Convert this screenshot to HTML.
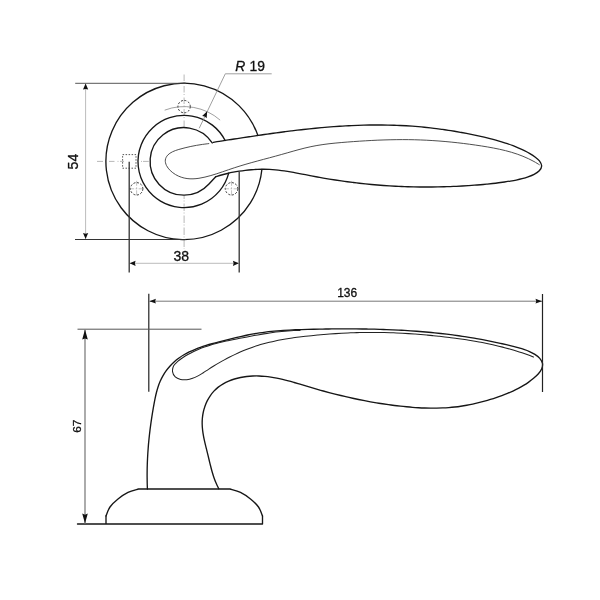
<!DOCTYPE html><html><head><meta charset="utf-8"><title>Handle drawing</title>
<style>html,body{margin:0;padding:0;background:#fff}svg{display:block;will-change:transform}text{font-family:"Liberation Sans",Arial,sans-serif;fill:#111;stroke:#111;stroke-width:0.3px}</style></head><body>
<svg width="600" height="600" viewBox="0 0 600 600">
<rect width="600" height="600" fill="#fff"/>
<g fill="none" stroke="#999" stroke-width="0.7">
<path d="M184.10,74.5 V127" stroke-dasharray="6.5 1.5 1 2.5"/>
<path d="M184.10,195.5 V249" stroke-dasharray="7.5 1.5 1 2" stroke-dashoffset="4"/>
<path d="M97,161.40 H103 M109,161.40 H114.5 M117.5,161.40 h1 M120,161.40 H124 M141,161.40 h1 M143,161.40 H148.8"/>
</g>
<path d="M164.65,110.17 A54.80,54.80 0 0 1 220.14,120.12" fill="none" stroke="#777" stroke-width="0.7"/>
<circle cx="184.10" cy="106.60" r="6.2" fill="none" stroke="#333" stroke-width="1" stroke-dasharray="2 1.6"/>
<circle cx="231.56" cy="188.80" r="6.2" fill="none" stroke="#333" stroke-width="1" stroke-dasharray="2 1.6"/>
<path d="M224.06,188.80 h15 M231.56,180.80 v16" fill="none" stroke="#999" stroke-width="0.6" stroke-dasharray="5 1.5 1.5 1.5"/>
<circle cx="136.64" cy="188.80" r="6.2" fill="none" stroke="#333" stroke-width="1" stroke-dasharray="2 1.6"/>
<path d="M129.14,188.80 h15 M136.64,180.80 v16" fill="none" stroke="#999" stroke-width="0.6" stroke-dasharray="5 1.5 1.5 1.5"/>
<rect x="122.6" y="154.6" width="13.4" height="13.6" fill="none" stroke="#444" stroke-width="0.9" stroke-dasharray="1.5 1.5"/>
<g fill="none" stroke="#161616" stroke-width="1.35" stroke-linecap="round" stroke-linejoin="round">
<path d="M261.88,169.48 A78.20,78.20 0 1 1 257.88,135.47"/>
<path d="M228.70,173.15 A46.10,46.10 0 1 1 225.13,140.49"/>
<path d="M212.24,142.99 A33.80,33.80 0 1 0 208.99,184.04 L215.7,176.7"/>
<path d="M213.30,142.30 C214.30,142.14 217.29,141.67 219.28,141.36 C221.27,141.05 223.27,140.74 225.26,140.42 C227.26,140.11 229.25,139.80 231.25,139.49 C233.25,139.18 235.24,138.87 237.24,138.56 C239.24,138.25 241.24,137.95 243.24,137.64 C245.23,137.34 247.23,137.04 249.23,136.74 C251.23,136.43 253.23,136.14 255.24,135.84 C257.24,135.55 259.24,135.25 261.24,134.96 C263.24,134.68 265.25,134.39 267.25,134.11 C269.25,133.82 271.26,133.55 273.26,133.27 C275.27,133.00 277.27,132.73 279.28,132.46 C281.28,132.19 283.29,131.93 285.30,131.68 C287.30,131.42 289.31,131.17 291.32,130.92 C293.33,130.68 295.34,130.43 297.34,130.20 C299.35,129.96 301.36,129.74 303.37,129.51 C305.38,129.29 307.39,129.07 309.40,128.86 C311.41,128.65 313.42,128.45 315.43,128.26 C317.45,128.06 319.46,127.87 321.47,127.69 C323.48,127.51 325.49,127.34 327.51,127.17 C329.52,127.01 331.53,126.85 333.55,126.70 C335.56,126.55 337.57,126.41 339.59,126.28 C341.60,126.15 343.62,126.03 345.63,125.91 C347.65,125.80 349.66,125.70 351.68,125.60 C353.69,125.51 355.71,125.43 357.73,125.35 C359.74,125.28 361.76,125.22 363.78,125.16 C365.79,125.11 367.81,125.07 369.83,125.04 C371.84,125.01 373.86,124.99 375.88,124.98 C377.90,124.97 379.92,124.98 381.93,124.99 C383.95,125.01 385.97,125.04 387.99,125.08 C390.01,125.12 392.03,125.17 394.05,125.23 C396.07,125.30 398.08,125.38 400.10,125.47 C402.12,125.56 404.14,125.67 406.16,125.79 C408.18,125.91 410.20,126.04 412.22,126.19 C414.24,126.33 416.26,126.49 418.28,126.67 C420.30,126.84 422.32,127.03 424.34,127.24 C426.36,127.44 428.38,127.66 430.40,127.89 C432.41,128.12 434.43,128.36 436.44,128.62 C438.46,128.88 440.47,129.15 442.48,129.43 C444.49,129.71 446.49,130.01 448.50,130.32 C450.50,130.63 452.51,130.95 454.50,131.28 C456.50,131.62 458.50,131.96 460.49,132.32 C462.48,132.68 464.47,133.05 466.45,133.43 C468.43,133.81 470.41,134.21 472.39,134.61 C474.36,135.02 476.33,135.43 478.29,135.86 C480.26,136.29 482.22,136.73 484.17,137.18 C486.12,137.63 488.07,138.10 490.01,138.59 C491.96,139.08 493.89,139.58 495.82,140.11 C497.75,140.65 499.68,141.20 501.60,141.79 C503.52,142.38 505.43,142.99 507.34,143.65 C509.25,144.30 511.15,144.99 513.05,145.72 C514.95,146.45 516.84,147.22 518.73,148.04 C520.61,148.85 522.51,149.71 524.37,150.63 C526.23,151.55 528.12,152.50 529.89,153.55 C531.67,154.61 533.43,155.72 535.02,156.95 C536.61,158.19 538.33,159.48 539.43,160.97 C540.53,162.46 541.68,164.25 541.65,165.89 C541.62,167.52 540.51,169.37 539.26,170.78 C538.01,172.19 536.00,173.32 534.13,174.34 C532.26,175.35 530.06,176.15 528.05,176.88 C526.04,177.60 524.05,178.18 522.08,178.71 C520.11,179.24 518.17,179.65 516.22,180.05 C514.27,180.44 512.34,180.76 510.38,181.08 C508.43,181.40 506.47,181.69 504.51,181.98 C502.54,182.26 500.56,182.53 498.57,182.78 C496.58,183.04 494.59,183.28 492.59,183.50 C490.59,183.73 488.58,183.94 486.57,184.14 C484.55,184.34 482.54,184.53 480.52,184.71 C478.49,184.89 476.47,185.05 474.44,185.20 C472.42,185.36 470.39,185.50 468.36,185.63 C466.33,185.77 464.30,185.89 462.28,186.00 C460.25,186.11 458.22,186.22 456.19,186.31 C454.17,186.41 452.14,186.49 450.12,186.57 C448.09,186.64 446.07,186.71 444.04,186.76 C442.02,186.82 440.00,186.87 437.97,186.90 C435.95,186.94 433.93,186.96 431.91,186.98 C429.89,187.00 427.87,187.01 425.85,187.00 C423.83,187.00 421.81,186.99 419.79,186.96 C417.77,186.94 415.75,186.91 413.74,186.87 C411.72,186.82 409.70,186.77 407.68,186.71 C405.67,186.65 403.65,186.57 401.64,186.49 C399.62,186.41 397.61,186.32 395.59,186.21 C393.58,186.11 391.57,186.00 389.55,185.87 C387.54,185.75 385.53,185.62 383.52,185.47 C381.50,185.33 379.49,185.17 377.48,185.01 C375.47,184.84 373.46,184.67 371.45,184.48 C369.44,184.30 367.43,184.10 365.42,183.89 C363.41,183.69 361.40,183.47 359.39,183.24 C357.38,183.01 355.38,182.78 353.37,182.53 C351.36,182.28 349.35,182.02 347.35,181.75 C345.34,181.48 343.34,181.20 341.33,180.92 C339.33,180.63 337.33,180.33 335.33,180.02 C333.33,179.71 331.33,179.39 329.33,179.06 C327.33,178.74 325.33,178.40 323.33,178.05 C321.34,177.71 319.34,177.35 317.35,176.98 C315.36,176.62 313.37,176.24 311.38,175.86 C309.39,175.48 307.40,175.08 305.42,174.70 C303.43,174.31 301.45,173.92 299.46,173.54 C297.47,173.17 295.49,172.79 293.50,172.44 C291.51,172.08 289.52,171.74 287.53,171.43 C285.54,171.12 283.55,170.82 281.55,170.56 C279.55,170.31 277.55,170.07 275.55,169.89 C273.55,169.70 271.54,169.55 269.53,169.44 C267.51,169.34 265.50,169.28 263.48,169.27 C261.46,169.25 259.43,169.29 257.41,169.36 C255.39,169.43 253.36,169.55 251.34,169.71 C249.32,169.86 247.30,170.07 245.29,170.30 C243.28,170.54 241.27,170.82 239.26,171.14 C237.26,171.46 235.26,171.81 233.28,172.21 C231.29,172.60 229.31,173.03 227.35,173.49 C225.38,173.96 223.42,174.46 221.48,175.00 C219.54,175.53 216.66,176.42 215.70,176.70"/>
</g>
<path d="M539.30,164.70 C538.41,164.17 535.78,162.51 533.99,161.52 C532.19,160.52 530.37,159.60 528.53,158.72 C526.69,157.85 524.83,157.04 522.95,156.27 C521.07,155.51 519.17,154.80 517.25,154.14 C515.34,153.47 513.41,152.86 511.46,152.28 C509.52,151.71 507.56,151.18 505.59,150.67 C503.62,150.17 501.63,149.71 499.64,149.27 C497.65,148.84 495.65,148.43 493.64,148.05 C491.64,147.66 489.62,147.31 487.61,146.96 C485.59,146.62 483.57,146.30 481.55,145.98 C479.53,145.67 477.51,145.37 475.48,145.07 C473.46,144.78 471.43,144.50 469.41,144.23 C467.38,143.96 465.36,143.70 463.33,143.45 C461.31,143.20 459.28,142.96 457.25,142.73 C455.22,142.51 453.19,142.29 451.16,142.09 C449.13,141.89 447.10,141.69 445.07,141.51 C443.04,141.34 441.01,141.17 438.98,141.01 C436.95,140.86 434.91,140.71 432.88,140.58 C430.85,140.45 428.81,140.34 426.78,140.23 C424.75,140.13 422.71,140.04 420.67,139.96 C418.64,139.88 416.60,139.82 414.57,139.76 C412.53,139.71 410.49,139.68 408.45,139.65 C406.42,139.63 404.38,139.62 402.34,139.62 C400.30,139.62 398.26,139.63 396.22,139.66 C394.18,139.68 392.14,139.72 390.10,139.77 C388.06,139.81 386.02,139.87 383.98,139.94 C381.95,140.01 379.91,140.09 377.87,140.17 C375.83,140.26 373.79,140.36 371.75,140.46 C369.71,140.56 367.67,140.68 365.63,140.80 C363.59,140.92 361.55,141.04 359.51,141.18 C357.48,141.31 355.44,141.45 353.40,141.60 C351.36,141.75 349.33,141.90 347.29,142.06 C345.26,142.22 343.22,142.38 341.19,142.55 C339.15,142.73 337.12,142.90 335.09,143.11 C333.06,143.31 331.03,143.52 329.01,143.76 C326.99,144.00 324.97,144.26 322.95,144.55 C320.94,144.84 318.93,145.15 316.92,145.50 C314.92,145.86 312.92,146.25 310.93,146.67 C308.93,147.09 306.95,147.55 304.97,148.03 C302.98,148.52 301.01,149.03 299.03,149.56 C297.06,150.08 295.09,150.63 293.12,151.18 C291.15,151.73 289.19,152.30 287.22,152.86 C285.25,153.42 283.29,153.99 281.32,154.54 C279.36,155.09 277.39,155.64 275.42,156.18 C273.46,156.72 271.49,157.24 269.52,157.77 C267.55,158.30 265.58,158.82 263.62,159.34 C261.65,159.87 259.68,160.39 257.72,160.93 C255.76,161.46 253.79,161.99 251.83,162.54 C249.87,163.09 247.91,163.64 245.96,164.21 C244.00,164.78 242.05,165.36 240.10,165.96 C238.15,166.56 236.20,167.18 234.26,167.82 C232.32,168.46 230.38,169.12 228.44,169.78 C226.50,170.44 224.57,171.12 222.62,171.78 C220.68,172.43 218.74,173.10 216.79,173.72 C214.83,174.34 212.88,174.96 210.91,175.52 C208.94,176.08 206.95,176.63 204.97,177.09 C202.98,177.55 200.98,177.98 198.98,178.27 C196.99,178.56 194.99,178.79 193.00,178.84 C191.01,178.88 189.03,178.83 187.06,178.55 C185.10,178.28 183.14,177.87 181.22,177.20 C179.29,176.53 177.34,175.66 175.51,174.55 C173.69,173.44 171.77,172.04 170.26,170.54 C168.76,169.03 167.30,167.29 166.48,165.54 C165.66,163.79 165.12,161.78 165.32,160.05 C165.52,158.31 166.47,156.52 167.68,155.14 C168.90,153.75 170.76,152.67 172.62,151.72 C174.48,150.78 176.75,150.10 178.83,149.45 C180.90,148.79 183.06,148.29 185.06,147.79 C187.07,147.29 188.96,146.85 190.87,146.45 C192.78,146.04 194.62,145.69 196.54,145.35 C198.46,145.01 200.36,144.71 202.41,144.42 C204.45,144.13 207.73,143.74 208.80,143.60" fill="none" stroke="#3a3a3a" stroke-width="0.9" stroke-linecap="round"/>
<path d="M75.2,83.3 H186" fill="none" stroke="#444" stroke-width="0.9"/>
<path d="M75,239.5 H186" fill="none" stroke="#333" stroke-width="1.2"/>
<path d="M85.6,84 V239" fill="none" stroke="#aaa" stroke-width="0.8"/>
<path d="M85.60,83.60 L88.20,89.60 L85.60,88.88 L83.00,89.60 Z" fill="#111"/>
<path d="M85.60,239.00 L83.00,233.00 L85.60,233.72 L88.20,233.00 Z" fill="#111"/>
<text transform="translate(78.2,161.6) rotate(-90)" text-anchor="middle" font-size="14">54</text>
<path d="M129.2,161.7 V272.6 M239.2,171.8 V272.6" fill="none" stroke="#333" stroke-width="1.3"/>
<path d="M130,263.3 H238.5" fill="none" stroke="#aaa" stroke-width="0.8"/>
<path d="M129.60,263.30 L135.60,260.70 L134.88,263.30 L135.60,265.90 Z" fill="#111"/>
<path d="M238.90,263.30 L232.90,265.90 L233.62,263.30 L232.90,260.70 Z" fill="#111"/>
<text x="181.2" y="260.5" text-anchor="middle" font-size="14">38</text>
<path d="M199.2,128.3 L225.3,73.8 H271.7" fill="none" stroke="#888" stroke-width="0.8"/>
<path d="M207.20,111.30 L206.65,118.24 L204.73,116.46 L202.14,116.08 Z" fill="#111"/>
<text x="235.3" y="71.3" font-size="13.9"><tspan font-style="italic">R</tspan><tspan dx="4.2">19</tspan></text>
<g fill="none" stroke="#161616" stroke-width="1.35" stroke-linecap="round" stroke-linejoin="round">
<path d="M147.40,489.00 C147.37,487.99 147.25,484.95 147.20,482.93 C147.16,480.91 147.13,478.89 147.12,476.87 C147.11,474.84 147.12,472.82 147.15,470.81 C147.17,468.79 147.22,466.77 147.28,464.75 C147.34,462.74 147.42,460.72 147.52,458.71 C147.62,456.69 147.73,454.68 147.86,452.67 C147.99,450.66 148.14,448.65 148.30,446.64 C148.46,444.63 148.64,442.62 148.84,440.61 C149.03,438.61 149.24,436.60 149.47,434.60 C149.69,432.59 149.93,430.59 150.18,428.59 C150.44,426.59 150.71,424.59 150.99,422.59 C151.27,420.59 151.57,418.60 151.88,416.60 C152.19,414.61 152.52,412.61 152.86,410.62 C153.19,408.63 153.54,406.64 153.91,404.65 C154.27,402.67 154.64,400.67 155.05,398.70 C155.46,396.72 155.87,394.74 156.37,392.79 C156.87,390.84 157.40,388.90 158.03,386.98 C158.66,385.07 159.35,383.18 160.17,381.32 C160.98,379.47 161.89,377.64 162.90,375.87 C163.92,374.10 165.04,372.36 166.24,370.70 C167.43,369.05 168.73,367.45 170.08,365.95 C171.43,364.45 172.87,363.04 174.35,361.71 C175.84,360.39 177.40,359.16 179.00,358.00 C180.60,356.85 182.27,355.78 183.97,354.77 C185.68,353.77 187.43,352.84 189.22,351.96 C191.01,351.08 192.85,350.27 194.70,349.51 C196.56,348.74 198.46,348.03 200.37,347.36 C202.29,346.68 204.23,346.06 206.18,345.45 C208.14,344.85 210.11,344.28 212.09,343.73 C214.06,343.18 216.06,342.66 218.04,342.14 C220.03,341.62 222.02,341.12 224.00,340.61 C225.98,340.11 227.95,339.61 229.92,339.12 C231.89,338.63 233.86,338.15 235.82,337.68 C237.79,337.21 239.75,336.75 241.71,336.31 C243.67,335.86 245.63,335.44 247.59,335.03 C249.56,334.63 251.52,334.25 253.49,333.89 C255.46,333.54 257.43,333.21 259.41,332.90 C261.39,332.60 263.37,332.33 265.36,332.08 C267.35,331.83 269.34,331.60 271.34,331.40 C273.33,331.19 275.33,331.01 277.33,330.84 C279.34,330.68 281.34,330.53 283.35,330.40 C285.36,330.27 287.37,330.16 289.38,330.05 C291.40,329.95 293.41,329.86 295.43,329.78 C297.45,329.70 299.47,329.63 301.49,329.57 C303.51,329.51 305.53,329.45 307.55,329.40 C309.57,329.35 311.59,329.30 313.61,329.26 C315.64,329.21 317.66,329.17 319.68,329.13 C321.70,329.09 323.73,329.06 325.75,329.03 C327.77,329.00 329.80,328.97 331.82,328.95 C333.84,328.93 335.87,328.91 337.89,328.89 C339.91,328.88 341.94,328.87 343.96,328.87 C345.98,328.86 348.01,328.86 350.03,328.87 C352.05,328.87 354.08,328.88 356.10,328.90 C358.12,328.91 360.14,328.93 362.17,328.96 C364.19,328.98 366.21,329.02 368.23,329.05 C370.25,329.09 372.28,329.13 374.30,329.18 C376.32,329.23 378.34,329.29 380.36,329.35 C382.38,329.42 384.40,329.49 386.42,329.56 C388.43,329.64 390.45,329.72 392.47,329.81 C394.49,329.90 396.51,330.00 398.52,330.10 C400.54,330.21 402.55,330.32 404.57,330.44 C406.58,330.56 408.60,330.69 410.61,330.82 C412.62,330.96 414.63,331.10 416.64,331.25 C418.66,331.40 420.67,331.56 422.67,331.73 C424.68,331.90 426.69,332.08 428.70,332.27 C430.71,332.45 432.71,332.65 434.72,332.85 C436.72,333.06 438.72,333.27 440.73,333.49 C442.73,333.72 444.73,333.95 446.73,334.19 C448.73,334.44 450.73,334.69 452.72,334.95 C454.72,335.21 456.72,335.49 458.71,335.77 C460.70,336.05 462.70,336.34 464.69,336.65 C466.68,336.95 468.67,337.27 470.66,337.59 C472.64,337.92 474.63,338.26 476.61,338.61 C478.60,338.95 480.58,339.31 482.56,339.68 C484.54,340.06 486.52,340.44 488.50,340.83 C490.48,341.23 492.45,341.63 494.43,342.05 C496.40,342.47 498.37,342.90 500.34,343.35 C502.31,343.79 504.28,344.25 506.24,344.71 C508.21,345.18 510.17,345.67 512.14,346.16 C514.10,346.66 516.06,347.15 518.01,347.68 C519.96,348.22 521.92,348.74 523.84,349.38 C525.76,350.02 527.66,350.68 529.51,351.52 C531.35,352.36 533.18,353.27 534.89,354.40 C536.61,355.53 538.51,356.80 539.78,358.31 C541.04,359.82 542.18,361.64 542.49,363.43 C542.79,365.22 542.34,367.29 541.62,369.05 C540.91,370.81 539.53,372.45 538.18,373.99 C536.84,375.53 535.15,376.95 533.57,378.30 C531.98,379.65 530.33,380.90 528.67,382.10 C527.01,383.29 525.31,384.39 523.59,385.44 C521.87,386.49 520.12,387.47 518.35,388.40 C516.58,389.33 514.78,390.20 512.96,391.03 C511.15,391.86 509.31,392.64 507.45,393.39 C505.60,394.14 503.72,394.85 501.84,395.54 C499.95,396.23 498.05,396.90 496.14,397.54 C494.23,398.19 492.30,398.81 490.37,399.41 C488.43,400.01 486.49,400.58 484.54,401.12 C482.58,401.67 480.62,402.19 478.65,402.68 C476.68,403.16 474.70,403.62 472.72,404.05 C470.74,404.48 468.75,404.87 466.76,405.24 C464.77,405.60 462.77,405.93 460.77,406.22 C458.77,406.51 456.77,406.76 454.77,406.99 C452.76,407.21 450.76,407.39 448.75,407.55 C446.74,407.70 444.73,407.82 442.72,407.91 C440.71,408.01 438.70,408.07 436.69,408.10 C434.68,408.13 432.66,408.14 430.65,408.12 C428.64,408.10 426.62,408.05 424.61,407.98 C422.60,407.91 420.58,407.82 418.57,407.71 C416.56,407.59 414.54,407.46 412.53,407.30 C410.52,407.15 408.51,406.97 406.50,406.78 C404.49,406.59 402.48,406.39 400.47,406.16 C398.47,405.94 396.46,405.71 394.46,405.46 C392.46,405.20 390.45,404.94 388.45,404.66 C386.46,404.38 384.46,404.09 382.46,403.78 C380.47,403.48 378.47,403.16 376.48,402.83 C374.49,402.49 372.50,402.15 370.51,401.79 C368.52,401.43 366.54,401.06 364.55,400.68 C362.57,400.30 360.59,399.90 358.61,399.50 C356.63,399.09 354.65,398.67 352.68,398.24 C350.71,397.81 348.73,397.37 346.76,396.92 C344.79,396.47 342.83,396.00 340.86,395.53 C338.90,395.05 336.94,394.57 334.98,394.08 C333.02,393.58 331.06,393.08 329.11,392.56 C327.15,392.05 325.20,391.52 323.25,390.99 C321.30,390.45 319.36,389.91 317.41,389.36 C315.47,388.80 313.53,388.24 311.59,387.67 C309.65,387.10 307.72,386.52 305.79,385.94 C303.85,385.36 301.92,384.77 299.99,384.19 C298.06,383.62 296.13,383.04 294.20,382.48 C292.26,381.93 290.33,381.38 288.39,380.87 C286.46,380.35 284.52,379.85 282.57,379.39 C280.62,378.94 278.68,378.50 276.72,378.12 C274.76,377.73 272.80,377.38 270.83,377.09 C268.85,376.79 266.88,376.54 264.89,376.36 C262.90,376.17 260.90,376.04 258.89,375.98 C256.87,375.93 254.85,375.93 252.82,376.01 C250.78,376.10 248.72,376.25 246.67,376.50 C244.62,376.75 242.55,377.07 240.52,377.49 C238.49,377.91 236.45,378.41 234.48,379.01 C232.50,379.61 230.55,380.30 228.67,381.10 C226.80,381.90 224.96,382.80 223.23,383.80 C221.50,384.81 219.82,385.92 218.27,387.14 C216.72,388.37 215.26,389.71 213.92,391.15 C212.58,392.59 211.34,394.15 210.22,395.78 C209.11,397.41 208.10,399.14 207.21,400.91 C206.32,402.69 205.54,404.55 204.88,406.44 C204.22,408.33 203.68,410.29 203.26,412.25 C202.84,414.22 202.54,416.23 202.36,418.23 C202.18,420.24 202.13,422.27 202.18,424.29 C202.22,426.31 202.40,428.33 202.63,430.35 C202.86,432.38 203.20,434.40 203.56,436.42 C203.93,438.44 204.38,440.46 204.83,442.46 C205.29,444.47 205.79,446.47 206.29,448.46 C206.78,450.45 207.29,452.43 207.78,454.39 C208.26,456.36 208.72,458.31 209.19,460.25 C209.66,462.19 210.11,464.11 210.60,466.03 C211.08,467.95 211.57,469.85 212.12,471.75 C212.67,473.65 213.24,475.55 213.90,477.44 C214.56,479.33 215.26,481.21 216.07,483.10 C216.87,484.98 218.30,487.81 218.75,488.75"/>
<path d="M77.5,524 H262.5 V516 M106,524 V516"/>
<path d="M106.00,516.00 C106.67,514.50 108.00,509.83 110.00,507.00 C112.00,504.17 115.00,501.43 118.00,499.00 C121.00,496.57 124.58,494.07 128.00,492.40 C131.42,490.73 136.75,489.57 138.50,489.00 L230,489 L230.00,489.00 C231.75,489.57 237.08,490.73 240.50,492.40 C243.92,494.07 247.50,496.57 250.50,499.00 C253.50,501.43 256.50,504.17 258.50,507.00 C260.50,509.83 261.83,514.50 262.50,516.00"/>
</g>
<path d="M533.50,357.00 C532.55,356.64 529.71,355.55 527.80,354.86 C525.90,354.17 523.98,353.50 522.06,352.86 C520.14,352.21 518.22,351.59 516.28,350.99 C514.35,350.40 512.41,349.82 510.47,349.26 C508.52,348.71 506.57,348.17 504.62,347.65 C502.66,347.14 500.70,346.64 498.73,346.16 C496.77,345.68 494.80,345.22 492.82,344.78 C490.85,344.34 488.87,343.91 486.88,343.50 C484.90,343.10 482.91,342.70 480.92,342.33 C478.93,341.95 476.94,341.59 474.94,341.24 C472.94,340.89 470.94,340.55 468.94,340.23 C466.94,339.91 464.93,339.60 462.93,339.30 C460.92,339.01 458.91,338.72 456.90,338.45 C454.89,338.17 452.88,337.91 450.86,337.66 C448.85,337.40 446.84,337.16 444.82,336.92 C442.81,336.69 440.79,336.46 438.77,336.24 C436.76,336.02 434.74,335.81 432.72,335.61 C430.71,335.41 428.69,335.21 426.67,335.03 C424.65,334.84 422.63,334.67 420.61,334.50 C418.60,334.34 416.58,334.18 414.56,334.03 C412.54,333.89 410.52,333.75 408.50,333.62 C406.47,333.49 404.45,333.37 402.43,333.26 C400.41,333.16 398.39,333.06 396.37,332.97 C394.35,332.88 392.32,332.80 390.30,332.74 C388.28,332.67 386.26,332.61 384.24,332.57 C382.21,332.52 380.19,332.49 378.17,332.46 C376.14,332.44 374.12,332.43 372.10,332.42 C370.08,332.42 368.05,332.43 366.03,332.45 C364.01,332.48 361.98,332.51 359.96,332.55 C357.94,332.60 355.91,332.65 353.89,332.72 C351.87,332.79 349.84,332.87 347.82,332.96 C345.80,333.05 343.78,333.15 341.75,333.26 C339.73,333.37 337.71,333.49 335.68,333.62 C333.66,333.75 331.64,333.89 329.62,334.04 C327.59,334.20 325.57,334.36 323.55,334.53 C321.52,334.70 319.50,334.88 317.48,335.07 C315.46,335.26 313.44,335.46 311.41,335.66 C309.39,335.87 307.37,336.09 305.35,336.31 C303.33,336.54 301.31,336.78 299.29,337.03 C297.27,337.28 295.26,337.55 293.24,337.83 C291.23,338.12 289.22,338.42 287.22,338.74 C285.22,339.06 283.22,339.40 281.23,339.77 C279.24,340.13 277.25,340.52 275.28,340.94 C273.30,341.35 271.33,341.79 269.37,342.27 C267.41,342.74 265.45,343.24 263.51,343.77 C261.57,344.31 259.63,344.88 257.71,345.48 C255.79,346.08 253.88,346.72 251.99,347.40 C250.09,348.07 248.20,348.78 246.33,349.53 C244.45,350.27 242.59,351.05 240.73,351.85 C238.88,352.66 237.04,353.50 235.20,354.36 C233.37,355.23 231.55,356.13 229.74,357.05 C227.93,357.97 226.13,358.93 224.34,359.90 C222.55,360.88 220.76,361.88 218.99,362.90 C217.22,363.93 215.46,364.98 213.71,366.05 C211.96,367.12 210.21,368.22 208.48,369.32 C206.74,370.43 205.03,371.60 203.30,372.69 C201.56,373.78 199.84,374.91 198.06,375.86 C196.28,376.80 194.50,377.71 192.62,378.35 C190.75,379.00 188.82,379.53 186.81,379.71 C184.81,379.90 182.54,379.91 180.61,379.45 C178.68,378.99 176.58,378.23 175.24,376.96 C173.90,375.68 172.87,373.64 172.59,371.80 C172.31,369.96 172.71,367.66 173.56,365.93 C174.40,364.20 176.15,362.82 177.67,361.45 C179.19,360.09 180.97,358.91 182.67,357.75 C184.38,356.59 186.11,355.52 187.88,354.51 C189.64,353.49 191.43,352.56 193.25,351.67 C195.06,350.79 196.91,349.97 198.77,349.20 C200.63,348.43 202.52,347.72 204.43,347.05 C206.33,346.38 208.25,345.77 210.19,345.18 C212.12,344.59 214.08,344.05 216.04,343.53 C218.00,343.01 219.97,342.53 221.95,342.07 C223.93,341.61 225.92,341.17 227.91,340.74 C229.90,340.32 231.90,339.92 233.90,339.51 C235.89,339.11 237.89,338.72 239.88,338.33 C241.88,337.93 243.87,337.54 245.86,337.15 C247.84,336.76 249.83,336.38 251.82,336.00 C253.80,335.62 255.79,335.25 257.77,334.90 C259.76,334.54 261.75,334.19 263.73,333.86 C265.72,333.53 267.71,333.21 269.71,332.92 C271.70,332.62 273.70,332.34 275.70,332.09 C277.70,331.84 279.70,331.60 281.71,331.40 C283.73,331.20 285.74,331.02 287.77,330.87 C289.79,330.73 291.82,330.61 293.86,330.53 C295.90,330.45 298.98,330.42 300.00,330.40" fill="none" stroke="#222" stroke-width="1.05" stroke-linecap="round"/>
<path d="M148.8,293.8 V391.7 M542.5,294 V392" fill="none" stroke="#222" stroke-width="1.2"/>
<path d="M149.5,301.2 H542" fill="none" stroke="#777" stroke-width="1"/>
<path d="M149.40,301.20 L155.90,298.80 L155.12,301.20 L155.90,303.60 Z" fill="#111"/>
<path d="M542.00,301.20 L535.50,303.60 L536.28,301.20 L535.50,298.80 Z" fill="#111"/>
<text x="347.2" y="297" text-anchor="middle" font-size="12">136</text>
<path d="M77.5,329.2 H201.5" fill="none" stroke="#555" stroke-width="1"/>
<path d="M85,330 V523.5" fill="none" stroke="#888" stroke-width="1.4"/>
<path d="M85.00,329.60 L87.80,339.60 L85.00,338.40 L82.20,339.60 Z" fill="#111"/>
<path d="M85.00,523.60 L82.20,513.60 L85.00,514.80 L87.80,513.60 Z" fill="#111"/>
<text transform="translate(81.2,426.2) rotate(-90)" text-anchor="middle" font-size="11.8">67</text>
</svg></body></html>
